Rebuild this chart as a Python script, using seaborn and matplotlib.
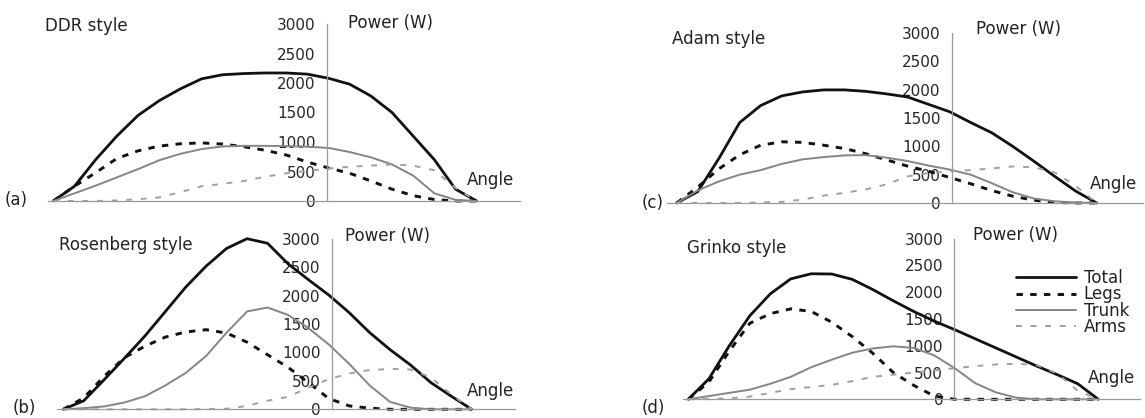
import numpy as np
import pandas as pd
import matplotlib
matplotlib.use("Agg")
import matplotlib.pyplot as plt
import seaborn as sns

sns.set_theme(style="white")
plt.rcParams['font.family'] = ['DejaVu Sans']

# ---------------- data ----------------
angle = [0, 5, 10, 15, 20, 25, 30, 35, 40, 45, 50, 55, 60, 65, 70, 75, 80, 85, 90, 95, 100]

ddr_total = [0, 250, 700, 1100, 1450, 1700, 1900, 2070, 2140, 2160, 2170, 2170, 2150, 2080, 1980, 1780, 1500, 1100, 700, 200, 0]
ddr_legs = [0, 250, 480, 720, 850, 930, 970, 985, 965, 920, 860, 780, 660, 560, 470, 340, 200, 90, 25, 0, 0]
ddr_trunk = [0, 130, 260, 400, 540, 690, 800, 880, 925, 935, 935, 930, 920, 900, 830, 740, 620, 430, 130, 20, 0]
ddr_arms = [0, 0, 0, 10, 30, 60, 150, 250, 290, 340, 410, 470, 510, 550, 580, 600, 620, 600, 520, 220, 0]

adam_total = [0, 200, 780, 1420, 1720, 1890, 1960, 1996, 1996, 1970, 1925, 1870, 1740, 1610, 1420, 1240, 1000, 740, 470, 210, 0]
adam_legs = [0, 280, 600, 850, 1020, 1080, 1070, 1020, 960, 870, 760, 650, 560, 450, 340, 220, 120, 50, 10, 0, 0]
adam_trunk = [0, 220, 380, 500, 580, 690, 770, 810, 840, 845, 800, 740, 660, 590, 500, 350, 190, 80, 30, 10, 0]
adam_arms = [0, 0, 0, 0, 10, 20, 60, 130, 180, 240, 330, 470, 530, 560, 580, 610, 645, 630, 540, 300, 0]

rosenberg_total = [0, 150, 520, 900, 1290, 1720, 2150, 2520, 2830, 3000, 2920, 2560, 2280, 2010, 1700, 1350, 1050, 780, 470, 230, 0]
rosenberg_legs = [0, 200, 580, 910, 1110, 1270, 1360, 1400, 1340, 1180, 960, 740, 470, 190, 60, 20, 0, 0, 0, 0, 0]
rosenberg_trunk = [0, 20, 50, 120, 230, 420, 640, 940, 1350, 1720, 1790, 1660, 1430, 1140, 800, 420, 130, 30, 0, 0, 0]
rosenberg_arms = [0, 0, 0, 0, 0, 0, 0, 5, 10, 60, 150, 220, 380, 530, 630, 690, 710, 700, 560, 260, 0]

grinko_total = [0, 380, 1000, 1560, 1970, 2250, 2345, 2340, 2240, 2050, 1840, 1640, 1460, 1300, 1130, 960, 790, 620, 460, 290, 0]
grinko_legs = [0, 320, 900, 1420, 1600, 1690, 1640, 1440, 1170, 860, 500, 260, 60, 0, 0, 0, 0, 0, 0, 0, 0]
grinko_trunk = [0, 60, 120, 180, 290, 420, 600, 740, 870, 950, 990, 960, 820, 580, 300, 130, 30, 0, 0, 0, 0]
grinko_arms = [0, 5, 20, 50, 120, 190, 230, 270, 340, 420, 460, 500, 540, 580, 620, 650, 665, 640, 480, 160, 0]

series_names = ["Total", "Legs", "Trunk", "Arms"]
styles = ["DDR style", "Adam style", "Rosenberg style", "Grinko style"]
panel_tags = ["(a)", "(c)", "(b)", "(d)"]
y_ticks = [0, 500, 1000, 1500, 2000, 2500, 3000]
y_ticklabels = ["0", "500", "1000", "1500", "2000", "2500", "3000"]

panel_data = [
    [ddr_total, ddr_legs, ddr_trunk, ddr_arms],
    [adam_total, adam_legs, adam_trunk, adam_arms],
    [rosenberg_total, rosenberg_legs, rosenberg_trunk, rosenberg_arms],
    [grinko_total, grinko_legs, grinko_trunk, grinko_arms],
]

# ---------------- layout (pixels) ----------------
W, H = 1145, 418
fig = plt.figure(figsize=(W / 100, H / 100), dpi=100)

# px0, px100, py0, py3000, xline_left, xline_right, yaxis_x (pixel)
geom = [
    (53.3, 476.7, 201, 24, 48, 520, 326.7),
    (676.7, 1096.7, 203, 33, 667, 1143, 951.7),
    (63.3, 471.7, 409.3, 238.7, 57, 515, 331.7),
    (688.3, 1098.3, 399.3, 238.7, 683, 1140, 954.3),
]
# title, power label, angle label, tag positions (left x, center y)
text_pos = [
    ((45, 26), (348, 23), (467, 180), (5, 200)),
    ((672, 39), (976, 29), (1090, 184), (642, 203)),
    ((59, 245), (345, 236), (467, 391), (13, 408)),
    ((687, 248), (973, 235), (1088, 378), (642, 408)),
]

line_styles = [
    dict(color="#111111", lw=2.0, ls="-"),
    dict(color="#111111", lw=2.1, ls=(0, (2.2, 2.5))),
    dict(color="#858585", lw=1.4, ls="-"),
    dict(color="#a0a0a0", lw=1.4, ls=(0, (3, 4.5))),
]

FS = 12
TXT = "#222222"
ymin, ymax = -150, 3150

axes = []
for i, (px0, px100, py0, py3000, xl, xr, yaxp) in enumerate(geom):
    sx = (px100 - px0) / 100.0
    sy = (py0 - py3000) / 3000.0
    xmin = (xl - px0) / sx
    xmax = (xr - px0) / sx
    yax = (yaxp - px0) / sx
    left = xl
    width = xr - xl
    top = py0 - ymax * sy
    height = (ymax - ymin) * sy
    ax = fig.add_axes([left / W, 1 - (top + height) / H, width / W, height / H])
    ax.set_facecolor("none")
    df = pd.DataFrame({"angle": angle})
    for name, vals, st in zip(series_names, panel_data[i], line_styles):
        df[name] = vals
        sns.lineplot(data=df, x="angle", y=name, ax=ax, color=st["color"],
                     linewidth=st["lw"], linestyle=st["ls"], label=name, legend=False)
    ax.set_xlim(xmin, xmax)
    ax.set_ylim(ymin, ymax)
    ax.set_xlabel("")
    ax.set_ylabel("")
    ax.set_xticks([])
    ax.set_yticks(y_ticks)
    ax.set_yticklabels(y_ticklabels, fontsize=FS, color=TXT)
    ax.tick_params(axis="y", direction="out", length=4, width=0.8, color="#999999", pad=4)
    for s in ["top", "right"]:
        ax.spines[s].set_visible(False)
    ax.spines["left"].set_position(("data", yax))
    ax.spines["left"].set_bounds(0, 3000)
    ax.spines["left"].set_color("#999999")
    ax.spines["left"].set_linewidth(0.9)
    ax.spines["bottom"].set_position(("data", 0))
    ax.spines["bottom"].set_color("#999999")
    ax.spines["bottom"].set_linewidth(0.9)
    ax.grid(False)
    axes.append(ax)

    (tx, ty), (pwx, pwy), (anx, any_), (tgx, tgy) = text_pos[i]
    fig.text(tx / W, 1 - ty / H, styles[i], fontsize=FS, color=TXT, va="center", ha="left")
    fig.text(pwx / W, 1 - pwy / H, "Power (W)", fontsize=FS, color=TXT, va="center", ha="left")
    fig.text(anx / W, 1 - any_ / H, "Angle", fontsize=FS, color=TXT, va="center", ha="left")
    fig.text(tgx / W, 1 - tgy / H, panel_tags[i], fontsize=FS, color=TXT, va="center", ha="left")

handles = axes[3].get_lines()[:4]
fig.legend(handles, series_names, loc="upper left", bbox_to_anchor=(1016 / W, 1 - 269 / H),
           frameon=False, fontsize=FS, handlelength=3.6, handletextpad=0.45,
           labelspacing=-0.1, borderpad=0, borderaxespad=0, labelcolor=TXT)

fig.savefig("out.png", dpi=100)
